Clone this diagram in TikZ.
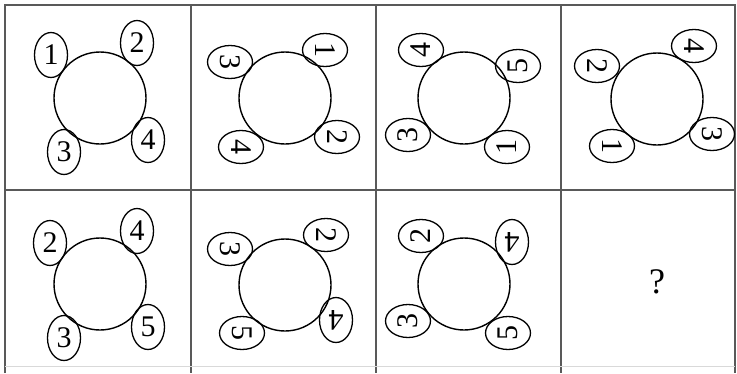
\documentclass[tikz,border=0pt]{standalone}
\usepackage{fontspec}
\setmainfont{Liberation Serif}
\usetikzlibrary{shapes.geometric}
\begin{document}
\begin{tikzpicture}[x=1pt,y=-1pt,
 gridline/.style={line width=1.6pt, draw=black!65},
 ring/.style={circle, draw, line width=1.4pt, minimum size=92pt, inner sep=0pt},
 num/.style={ellipse, draw, line width=1.3pt, minimum width=33pt, minimum height=45pt, inner sep=0pt, font=\fontsize{30}{30}\selectfont}]
\useasboundingbox (0,0) rectangle (737,373);
% grid
\draw[gridline] (5,373) -- (5,5) -- (735,5) -- (735,373);
\draw[gridline] (191,5) -- (191,373);
\draw[gridline] (376,5) -- (376,373);
\draw[gridline] (561,5) -- (561,373);
\draw[gridline] (5,190) -- (735,190);
\draw[line width=1pt, draw=black!15] (5,366) -- (735,366);
% cell 1
\node[ring] (c1) at (100,98) {};
\node[num] (a1) at (51,55) {1};
\node[num] (a2) at (137,43) {2};
\node[num] (a3) at (64,152) {3};
\node[num] (a4) at (148,140) {4};
% cell 2
\node[ring] (c2) at (285,98) {};
\node[num,rotate=-90] (b3) at (230,62) {3};
\node[num,rotate=-90] (b1) at (325,50) {1};
\node[num,rotate=-90] (b2) at (337,137) {2};
\node[num,rotate=-90] (b4) at (241,147) {4};
% cell 3
\node[ring] (c3) at (464,98) {};
\node[num,rotate=90] (d4) at (421,50) {4};
\node[num,rotate=90] (d5) at (518,66) {5};
\node[num,rotate=90] (d3) at (408,135) {3};
\node[num,rotate=90] (d1) at (507,147) {1};
% cell 4
\node[ring] (c4) at (657,99) {};
\node[num,rotate=-90] (e2) at (597,66) {2};
\node[num,rotate=-90] (e4) at (694,46) {4};
\node[num,rotate=-90] (e1) at (612,146) {1};
\node[num,rotate=-90] (e3) at (712,134) {3};
% cell 5
\node[ring] (c5) at (100,284) {};
\node[num] (f2) at (50,243) {2};
\node[num] (f4) at (137,231) {4};
\node[num] (f3) at (64,338) {3};
\node[num] (f5) at (148,327) {5};
% cell 6
\node[ring] (c6) at (285,285) {};
\node[num,rotate=-90] (g3) at (230,249) {3};
\node[num,rotate=-90] (g2) at (326,235) {2};
\node[num,rotate=180] (g4) at (336,320) {4};
\node[num,rotate=-90] (g5) at (242,333) {5};
% cell 7
\node[ring] (c7) at (464,284) {};
\node[num,rotate=90] (h2) at (421,236) {2};
\node[num,rotate=180] (h4) at (512,242) {4};
\node[num,rotate=90] (h3) at (408,321) {3};
\node[num,rotate=90] (h5) at (508,333) {5};
% cell 8
\node[font=\fontsize{36}{36}\selectfont] (q) at (657,282) {?};
\end{tikzpicture}
\end{document}
